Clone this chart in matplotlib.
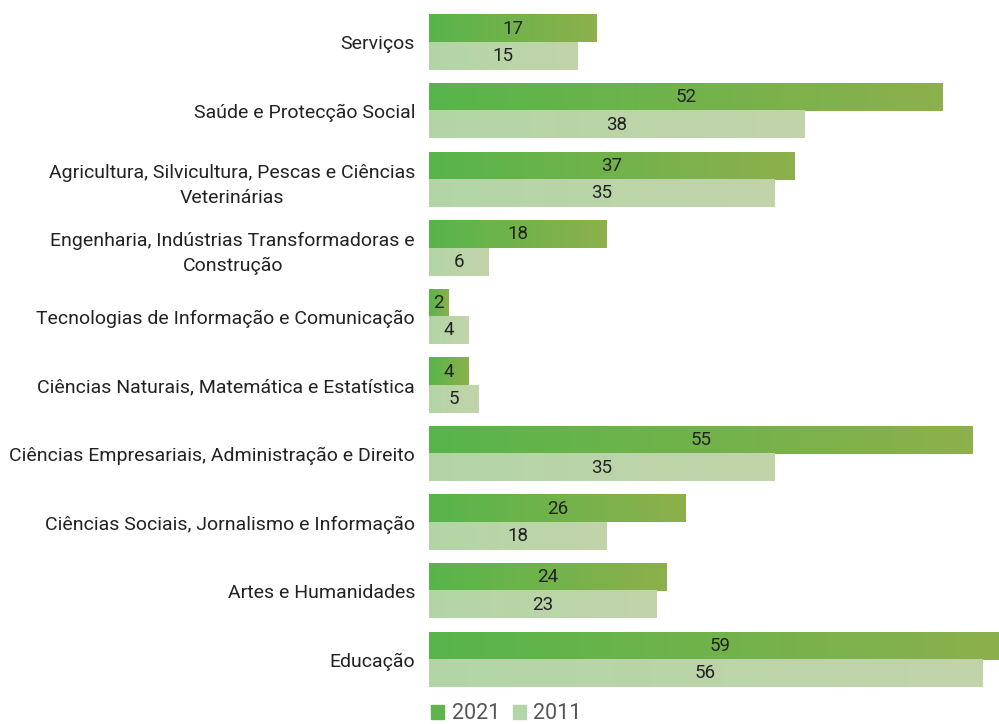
import numpy as np
import matplotlib.pyplot as plt
from matplotlib.patches import Patch
from matplotlib.colors import LinearSegmentedColormap

plt.rcParams['font.family'] = ['Roboto', 'DejaVu Sans']

categories = ["Serviços", "Saúde e Protecção Social",
              "Agricultura, Silvicultura, Pescas e Ciências\nVeterinárias",
              "Engenharia, Indústrias Transformadoras e\nConstrução",
              "Tecnologias de Informação e Comunicação",
              "Ciências Naturais, Matemática e Estatística",
              "Ciências Empresariais, Administração e Direito",
              "Ciências Sociais, Jornalismo e Informação",
              "Artes e Humanidades", "Educação"]
v2021 = [17, 52, 37, 18, 2, 4, 55, 26, 24, 59]
v2011 = [15, 38, 35, 6, 4, 5, 35, 18, 23, 56]

fig = plt.figure(figsize=(9.99, 7.24), dpi=100)
ax = fig.add_axes([0.4294, 0.0416, 0.5706, 0.9471])

cm_dark = LinearSegmentedColormap.from_list("d", ["#57b54a", "#8db04c"])
cm_light = LinearSegmentedColormap.from_list("l", ["#b3d6a6", "#c2d3aa"])
grad = np.linspace(0, 1, 256).reshape(1, -1)
h = 0.4

for i, (a, b) in enumerate(zip(v2021, v2011)):
    ax.imshow(grad, cmap=cm_dark, aspect='auto', extent=(0, a, i, i - h), zorder=2)
    ax.imshow(grad, cmap=cm_light, aspect='auto', extent=(0, b, i + h, i), zorder=2)
    ax.text(a / 2, i - h / 2, str(a), ha='center', va='center', fontsize=13.5, color='#222222', zorder=3)
    ax.text(b / 2, i + h / 2, str(b), ha='center', va='center', fontsize=13.5, color='#222222', zorder=3)

ax.set_xlim(0, 57.7)
ax.set_ylim(9.5, -0.5)
ax.set_yticks(range(len(categories)))
ax.set_yticklabels(categories, fontsize=14, color='#222222', ha='right',
                   multialignment='center', linespacing=1.5)
ax.tick_params(axis='y', length=0, pad=10)
ax.set_xticks([])
for s in ax.spines.values():
    s.set_visible(False)

handles = [Patch(color='#5fb54b', label='2021'), Patch(color='#b3d6a6', label='2011')]
leg = fig.legend(handles=handles, loc='center', bbox_to_anchor=(0.507, 0.014), ncol=2,
                 frameon=False, fontsize=15.5, handlelength=0.6, handleheight=0.6,
                 handletextpad=0.35, columnspacing=0.6, borderpad=0)
for t in leg.get_texts():
    t.set_color('#555555')

fig.savefig('out.png', dpi=100)
